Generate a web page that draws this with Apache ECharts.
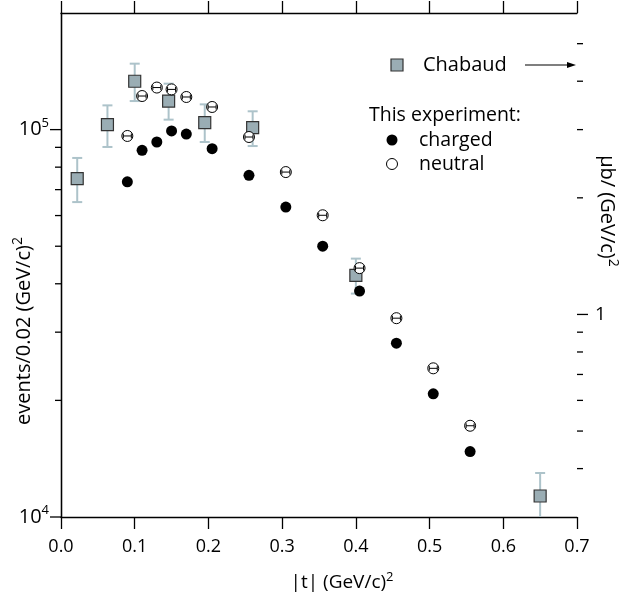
<!DOCTYPE html>
<html><head><meta charset="utf-8">
<script src="https://cdn.jsdelivr.net/npm/echarts@6/dist/echarts.min.js"></script>
<style>html,body{margin:0;padding:0;background:#fff}#c{width:626px;height:600px}</style>
</head><body><div id="c"></div>
<script>
// ---- data ----
const chabaudT  = [0.022, 0.063, 0.100, 0.146, 0.195, 0.260, 0.400, 0.650];
const chabaudY  = [74700, 103000, 133300, 118500, 104300, 101200, 42060, 11330];
const chabaudHi = [84500, 115500, 148000, 131400, 116200, 111500, 46450, 12990];
const chabaudLo = [65000, 90200, 118500, 106100, 92900, 90700, 37730, 9910];
const expT      = [0.09, 0.11, 0.13, 0.15, 0.17, 0.205, 0.255, 0.305, 0.355, 0.405, 0.455, 0.505, 0.555];
const neutralY  = [96300, 122100, 128400, 127000, 121400, 114400, 95700, 77700, 60100, 43900, 32600, 24200, 17200];
const chargedY  = [73300, 88400, 92900, 99200, 97400, 89300, 76200, 63100, 50000, 38300, 28100, 20800, 14750];
const leftMajorTicks  = [1e4, 1e5];
const leftMinorTicks  = [2e4, 3e4, 4e4, 5e4, 6e4, 7e4, 8e4, 9e4];
const rightMajorTicks = [1];
const rightMinorTicks = [0.4, 0.5, 0.6, 0.7, 0.8, 0.9, 2, 3, 4, 5];
const xMin = 0, xMax = 0.7, xStep = 0.1;
const yLeftMin = 1e4, yLeftMax = 2e5;
const yRightMin = 0.3, yRightMax = 6;

const FONT = '"Open Sans", sans-serif';
const chart = echarts.init(document.getElementById('c'), null, {renderer: 'canvas'});

function tickSeries(values, yIdx, atX, dir, len) {
  return {
    type: 'custom', xAxisIndex: 0, yAxisIndex: yIdx, silent: true, z: 5,
    data: values.map(v => [atX, v]),
    renderItem: function (params, api) {
      const p = api.coord([api.value(0), api.value(1)]);
      return {type: 'line', shape: {x1: p[0], y1: p[1], x2: p[0] + dir * len, y2: p[1]},
              style: {stroke: '#000', lineWidth: 1.3}};
    }
  };
}

const option = {
  animation: false,
  backgroundColor: '#fff',
  textStyle: {fontFamily: FONT},
  grid: {left: 61, right: 49, top: 13, bottom: 83, containLabel: false},
  xAxis: [
    {type: 'value', position: 'bottom', min: xMin, max: xMax, interval: xStep,
     axisLine: {lineStyle: {color: '#000', width: 1.3}},
     axisTick: {inside: false, length: 12, lineStyle: {color: '#000', width: 1.3}},
     axisLabel: {formatter: v => v.toFixed(1), fontSize: 18, color: '#000', margin: 21, fontFamily: FONT},
     splitLine: {show: false}},
    {type: 'value', position: 'top', min: xMin, max: xMax, interval: xStep,
     axisLine: {lineStyle: {color: '#000', width: 1.3}},
     axisTick: {inside: false, length: 12, lineStyle: {color: '#000', width: 1.3}},
     axisLabel: {show: false}, splitLine: {show: false}}
  ],
  yAxis: [
    {type: 'log', logBase: 10, position: 'left', min: yLeftMin, max: yLeftMax,
     axisLine: {lineStyle: {color: '#000', width: 1.3}},
     axisTick: {show: false}, splitLine: {show: false},
     axisLabel: {margin: 12, color: '#000',
       formatter: function (v) {
         const e = Math.log10(v);
         if (Math.abs(e - Math.round(e)) > 1e-6) return '';
         return '{b|10}{s|' + Math.round(e) + '}';
       },
       rich: {b: {fontSize: 20, fontFamily: FONT, color: '#000'},
              s: {fontSize: 13, fontFamily: FONT, color: '#000', padding: [0, 0, 13, 0]}}}},
    {type: 'log', logBase: 10, position: 'right', min: yRightMin, max: yRightMax,
     axisLine: {lineStyle: {color: '#000', width: 1.3}},
     axisTick: {show: false}, splitLine: {show: false},
     axisLabel: {margin: 18, color: '#000', fontSize: 19, fontFamily: FONT,
       formatter: function (v) {
         const e = Math.log10(v);
         if (Math.abs(e - Math.round(e)) > 1e-6) return '';
         return String(Math.round(v));
       }}}
  ],
  graphic: [
    {type: 'text', x: 24, y: 331, rotation: Math.PI / 2,
     style: {text: 'events/0.02 (GeV/c){s|2}', font: '20px ' + FONT, fill: '#000', align: 'center', verticalAlign: 'middle',
             rich: {s: {fontSize: 14, fontFamily: FONT, padding: [0, 0, 12, 0]}}}},
    {type: 'text', x: 607, y: 211, rotation: -Math.PI / 2,
     style: {text: 'μb/ (GeV/c){s|2}', font: '20px ' + FONT, fill: '#000', align: 'center', verticalAlign: 'middle',
             rich: {s: {fontSize: 14, fontFamily: FONT, padding: [0, 0, 12, 0]}}}},
    {type: 'text', x: 342, y: 583,
     style: {text: '|t| (GeV/c){s|2}', font: '19px ' + FONT, fill: '#000', align: 'center', verticalAlign: 'middle',
             rich: {s: {fontSize: 13, fontFamily: FONT, padding: [0, 0, 12, 0]}}}},
    // legend
    {type: 'rect', shape: {x: 391, y: 59, width: 12, height: 12},
     style: {fill: '#9aadb4', stroke: '#333', lineWidth: 1.2}},
    {type: 'text', x: 423, y: 65, style: {text: 'Chabaud', font: '20px ' + FONT, fill: '#000', verticalAlign: 'middle'}},
    {type: 'line', shape: {x1: 525, y1: 65, x2: 570, y2: 65}, style: {stroke: '#000', lineWidth: 1.2}},
    {type: 'polygon', shape: {points: [[576, 65], [567, 62], [567, 68]]}, style: {fill: '#000'}},
    {type: 'text', x: 369, y: 115, style: {text: 'This experiment:', font: '19.5px ' + FONT, fill: '#000', verticalAlign: 'middle'}},
    {type: 'circle', shape: {cx: 392, cy: 140, r: 5.5}, style: {fill: '#000'}},
    {type: 'text', x: 419, y: 140, style: {text: 'charged', font: '19.5px ' + FONT, fill: '#000', verticalAlign: 'middle'}},
    {type: 'circle', shape: {cx: 392, cy: 164, r: 5.5}, style: {fill: '#fff', stroke: '#000', lineWidth: 1}},
    {type: 'text', x: 419, y: 164, style: {text: 'neutral', font: '19.5px ' + FONT, fill: '#000', verticalAlign: 'middle'}}
  ],
  series: [
    tickSeries(leftMajorTicks, 0, xMin, -1, 11),
    tickSeries(leftMinorTicks, 0, xMin, -1, 6),
    tickSeries(rightMajorTicks, 1, xMax, 1, 11),
    tickSeries(rightMinorTicks, 1, xMax, 1, 6),
    {
      type: 'custom', name: 'Chabaud errors', xAxisIndex: 0, yAxisIndex: 0, clip: true, z: 2,
      data: chabaudT.map((t, i) => [t, chabaudLo[i], chabaudHi[i]]),
      renderItem: function (params, api) {
        const x = api.value(0);
        const pHi = api.coord([x, api.value(2)]);
        const pLo = api.coord([x, api.value(1)]);
        const cw = 5, st = {stroke: '#adc3ca', lineWidth: 2};
        return {type: 'group', children: [
          {type: 'line', shape: {x1: pHi[0], y1: pHi[1], x2: pLo[0], y2: pLo[1]}, style: st},
          {type: 'line', shape: {x1: pHi[0] - cw, y1: pHi[1], x2: pHi[0] + cw, y2: pHi[1]}, style: st},
          {type: 'line', shape: {x1: pLo[0] - cw, y1: pLo[1], x2: pLo[0] + cw, y2: pLo[1]}, style: st}
        ]};
      }
    },
    {
      type: 'scatter', name: 'Chabaud', xAxisIndex: 0, yAxisIndex: 0, z: 3,
      symbol: 'rect', symbolSize: 12,
      itemStyle: {color: '#9aadb4', borderColor: '#333', borderWidth: 1.2, opacity: 1},
      data: chabaudT.map((t, i) => [t, chabaudY[i]])
    },
    {
      type: 'scatter', name: 'charged', xAxisIndex: 0, yAxisIndex: 0, z: 4,
      symbol: 'circle', symbolSize: 11,
      itemStyle: {color: '#000', opacity: 1},
      data: expT.map((t, i) => [t, chargedY[i]])
    },
    {
      type: 'custom', name: 'neutral', xAxisIndex: 0, yAxisIndex: 0, z: 4,
      data: expT.map((t, i) => [t, neutralY[i]]),
      renderItem: function (params, api) {
        const p = api.coord([api.value(0), api.value(1)]);
        const st = {stroke: '#000', lineWidth: 1};
        return {type: 'group', children: [
          {type: 'circle', shape: {cx: p[0], cy: p[1], r: 5.5}, style: {fill: '#fff', stroke: '#000', lineWidth: 1}},
          {type: 'line', shape: {x1: p[0] - 4, y1: p[1], x2: p[0] + 4, y2: p[1]}, style: st},
          {type: 'line', shape: {x1: p[0] - 4, y1: p[1] - 2.5, x2: p[0] - 4, y2: p[1] + 2.5}, style: st},
          {type: 'line', shape: {x1: p[0] + 4, y1: p[1] - 2.5, x2: p[0] + 4, y2: p[1] + 2.5}, style: st}
        ]};
      }
    }
  ]
};
chart.setOption(option);
</script>
</body></html>
